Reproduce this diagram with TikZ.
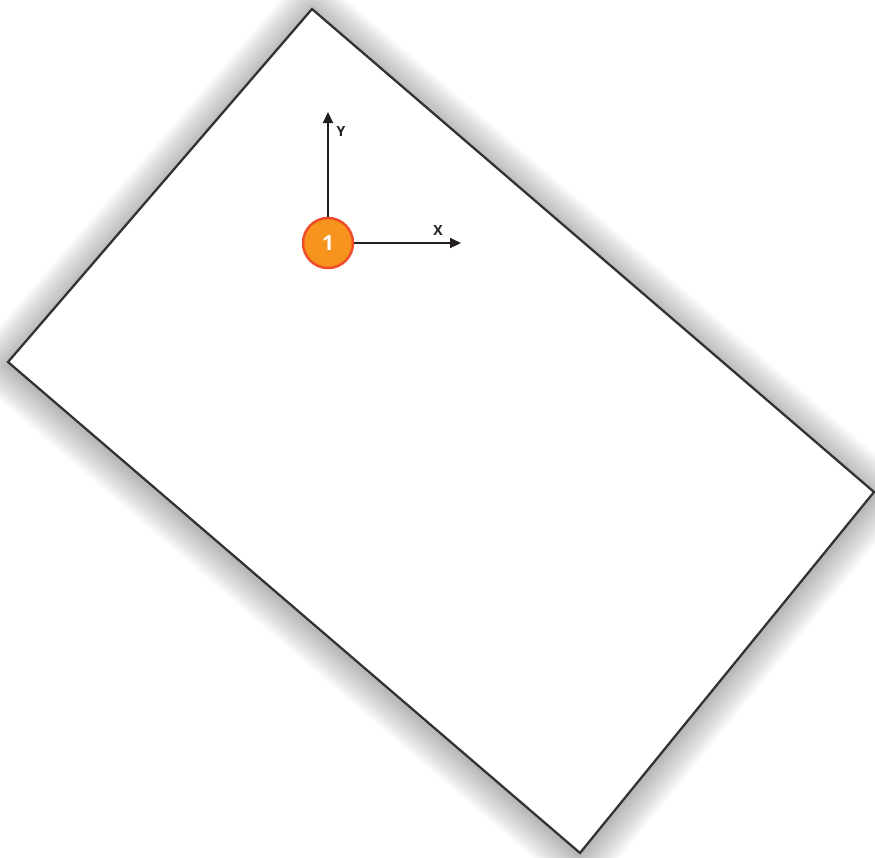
\documentclass[tikz,border=0pt]{standalone}
\usepackage{fontspec}
\newfontfamily\labelfont{Open Sans}
\usetikzlibrary{arrows.meta}
\definecolor{markorange}{HTML}{F7941D}
\definecolor{markred}{HTML}{EF4C2B}
\definecolor{edgegray}{HTML}{333333}
\definecolor{axisblack}{HTML}{231F20}

\tikzset{
  axis/.style={line width=2pt, axisblack, -{Triangle[length=11pt,width=10pt]}},
  axislabel/.style={font=\labelfont\bfseries\fontsize{14}{14}\selectfont, text=axisblack},
  origin/.style={circle, draw=markred, fill=markorange, line width=2.5pt,
    minimum size=50pt, inner sep=0pt, text=white,
    font=\labelfont\bfseries\fontsize{21}{21}\selectfont}
}

\begin{document}
\begin{tikzpicture}[x=1pt, y=-1pt]
    \useasboundingbox (0,0) rectangle (875,857);
    % sheet corners
    \coordinate (top) at (312,9);
    \coordinate (right) at (874,492);
    \coordinate (bottom) at (580,853);
    \coordinate (left) at (8,362);

    % soft shadow
    \foreach \w in {4,8,...,64} {
        \draw[black, opacity=0.018, line width=\w pt, line join=round]
            ([yshift=-3pt]top) -- ([yshift=-3pt]right) -- ([yshift=-3pt]bottom) -- ([yshift=-3pt]left) -- cycle;
    }

    % sheet
    \draw[fill=white, draw=edgegray, line width=2.3pt, line join=miter]
        (top) -- (right) -- (bottom) -- (left) -- cycle;

    % origin and axes
    \node[origin] (o) at (328,243) {1};
    \coordinate (yend) at (328,112);
    \coordinate (xend) at (461,243);
    \draw[axis] (o) -- (yend);
    \draw[axis] (o) -- (xend);
    \node[axislabel] (ylab) at (341,131) {Y};
    \node[axislabel] (xlab) at (438,230) {X};
\end{tikzpicture}
\end{document}
